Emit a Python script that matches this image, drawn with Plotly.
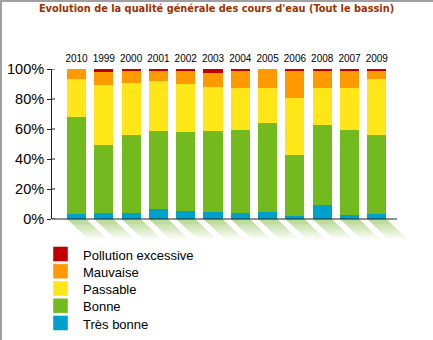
import plotly.graph_objects as go

# Water quality classes per year (share of monitored stations, %)
years = ["2010", "1999", "2000", "2001", "2002", "2003", "2004", "2005", "2006", "2008", "2007", "2009"]
tres_bonne = [3.3, 4.0, 3.8, 6.9, 5.3, 4.9, 4.0, 4.9, 2.2, 9.1, 2.7, 3.1]
bonne = [64.9, 45.6, 52.2, 52.0, 52.9, 53.5, 55.3, 59.1, 40.2, 53.6, 56.6, 52.7]
passable = [25.1, 39.5, 34.7, 33.1, 31.8, 29.6, 28.3, 23.6, 38.3, 24.9, 28.3, 37.3]
mauvaise = [6.7, 9.1, 8.2, 7.3, 9.3, 9.6, 11.3, 12.4, 18.0, 11.7, 11.7, 5.8]
pollution = [0.0, 1.8, 1.1, 0.7, 0.7, 2.4, 1.1, 0.0, 1.3, 0.7, 0.7, 1.1]
y_ticks = [0, 20, 40, 60, 80, 100]
y_labels = ["0%", "20%", "40%", "60%", "80%", "100%"]

series = [
    ("Très bonne", tres_bonne, "#00a0cc"),
    ("Bonne", bonne, "#72ba1e"),
    ("Passable", passable, "#ffe619"),
    ("Mauvaise", mauvaise, "#ff9900"),
    ("Pollution excessive", pollution, "#c00000"),
]

W, H = 433, 340
ML, MR, MT, MB = 52, 36, 69, 121
PW, PH = W - ML - MR, H - MT - MB

# x layout: numeric positions so the bars sit on a fixed pitch
PITCH = 27.3
X_LO = -24.5 / PITCH
X_HI = X_LO + PW / PITCH
BAR_W = 0.7
xs = list(range(len(years)))

fig = go.Figure()
for name, vals, col in series:
    fig.add_trace(go.Bar(x=xs, y=vals, name=name, marker_color=col,
                         marker_line_width=0, width=BAR_W, showlegend=False))


def px_to_paper_x(px):
    return (px - ML) / PW


def px_to_paper_y(py):
    return (MT + PH - py) / PH


def data_to_paper_x(x):
    return (x - X_LO) / (X_HI - X_LO)


shapes = []
annotations = []
# fading diagonal shadows under each bar
DX, DY = 21 / PW, 20 / PH
N = 8
for i in xs:
    xl = data_to_paper_x(i - BAR_W / 2)
    xr = data_to_paper_x(i + BAR_W / 2)
    for k in range(N):
        t0, t1 = k / N, (k + 1) / N
        op = 0.55 * (1 - k / N) ** 1.1
        path = (f"M{xl + DX * t0},{-DY * t0} L{xr + DX * t0},{-DY * t0} "
                f"L{xr + DX * t1},{-DY * t1} L{xl + DX * t1},{-DY * t1} Z")
        shapes.append(dict(type="path", xref="paper", yref="paper", path=path,
                           fillcolor=f"rgba(120,182,55,{op:.3f})", line_width=0,
                           layer="below"))

# baseline
shapes.append(dict(type="line", xref="paper", yref="paper", x0=0, x1=1, y0=0, y1=0,
                   line=dict(color="#222222", width=1.2)))
# short ticks on the inner side of the value axis
for v in y_ticks:
    shapes.append(dict(type="line", xref="paper", yref="y", x0=0, x1=px_to_paper_x(ML + 3),
                       y0=v, y1=v, line=dict(color="#222222", width=1)))
# frame on the left and top edges
shapes.append(dict(type="line", xref="paper", yref="paper",
                   x0=px_to_paper_x(1), x1=px_to_paper_x(1),
                   y0=px_to_paper_y(0), y1=px_to_paper_y(H),
                   line=dict(color="#a0a0a0", width=2)))
shapes.append(dict(type="line", xref="paper", yref="paper",
                   x0=px_to_paper_x(0), x1=px_to_paper_x(W),
                   y0=px_to_paper_y(1), y1=px_to_paper_y(1),
                   line=dict(color="#a0a0a0", width=2)))

# legend: colour swatches with labels, top class first
LEG_TOP, LEG_STEP, SW = 254, 17.25, 15
for j, (name, _, col) in enumerate(reversed(series)):
    cy = LEG_TOP + j * LEG_STEP
    shapes.append(dict(type="rect", xref="paper", yref="paper",
                       x0=px_to_paper_x(53), x1=px_to_paper_x(53 + SW),
                       y0=px_to_paper_y(cy - SW / 2), y1=px_to_paper_y(cy + SW / 2),
                       fillcolor=col, line=dict(color="rgba(255,255,255,0.45)", width=1)))
    annotations.append(dict(text=name, xref="paper", yref="paper",
                            x=px_to_paper_x(81), y=px_to_paper_y(cy + 1),
                            xanchor="left", yanchor="middle", showarrow=False,
                            font=dict(family="Liberation Sans", size=13, color="black")))

fig.update_layout(
    width=W, height=H,
    margin=dict(l=ML, r=MR, t=MT, b=MB, pad=0, autoexpand=False),
    paper_bgcolor="white", plot_bgcolor="white",
    barmode="stack", bargap=0,
    title=dict(text="Evolution de la qualité générale des cours d'eau (Tout le bassin)",
               x=0.5, xref="container", xanchor="center", y=1 - 8.5 / H, yanchor="middle",
               font=dict(family="DejaVu Sans", size=9.8, color="#993300", weight="bold")),
    xaxis=dict(range=[X_LO, X_HI], side="top", tickvals=xs, ticktext=years,
               showline=False, showgrid=False, zeroline=False, ticks="",
               automargin=False, ticklabelstandoff=4,
               tickfont=dict(family="Liberation Sans", size=10, color="black")),
    yaxis=dict(range=[0, 100], tickvals=y_ticks, ticktext=y_labels,
               showline=True, linecolor="#222222", linewidth=1, ticks="outside",
               ticklen=4, tickcolor="#222222", showgrid=False, zeroline=False,
               automargin=False,
               tickfont=dict(family="Liberation Sans", size=14.5, color="black")),
    shapes=shapes,
    annotations=annotations,
    showlegend=False,
)

fig.write_html("out.html")
